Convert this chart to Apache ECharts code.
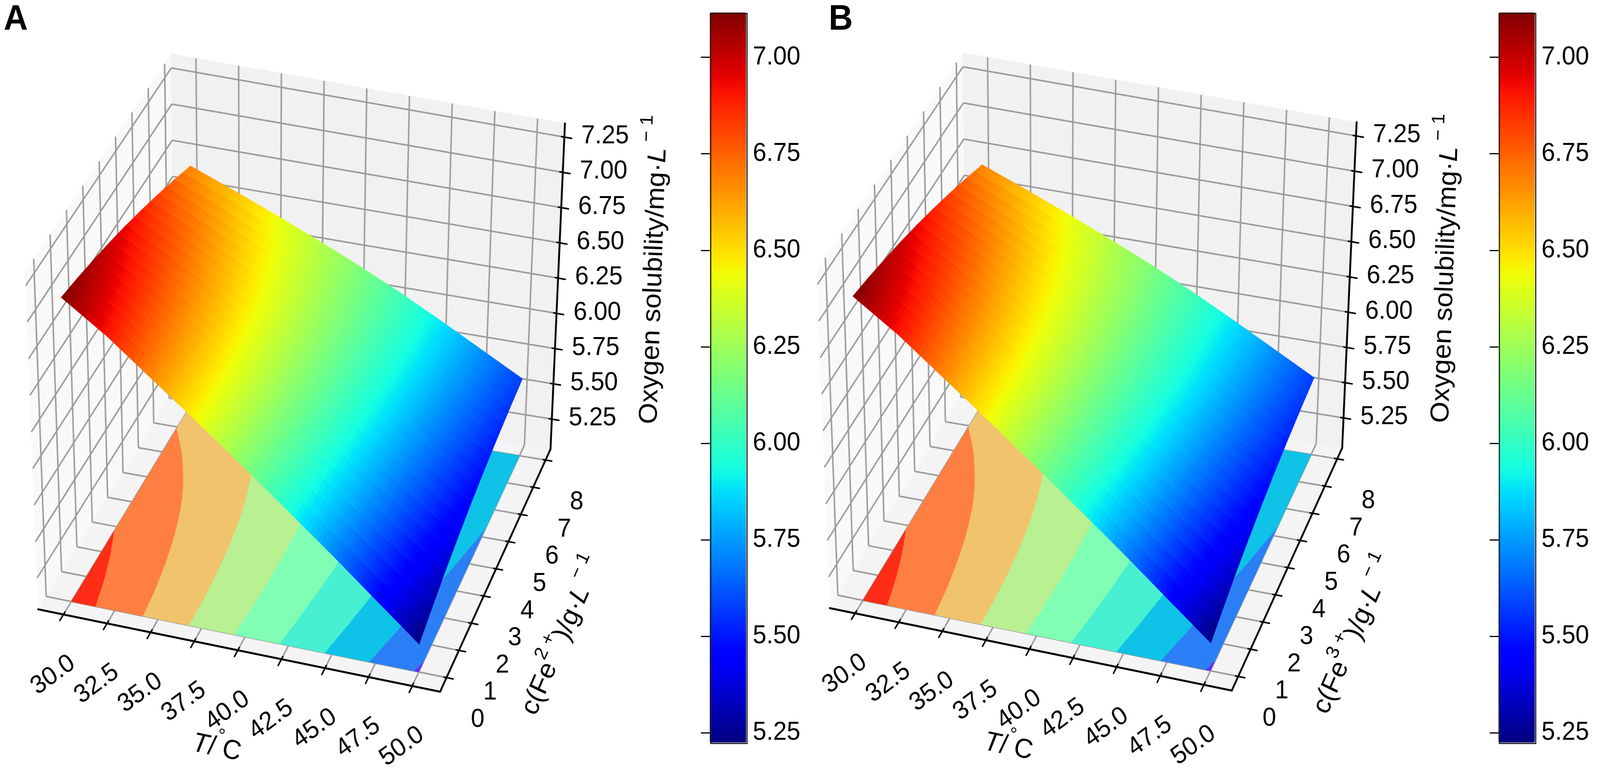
<!DOCTYPE html>
<html>
<head>
<meta charset="utf-8">
<title>Oxygen solubility surfaces</title>
<script src="https://cdn.jsdelivr.net/npm/echarts/dist/echarts.min.js"></script>
<style>
html,body{margin:0;padding:0;background:#ffffff;overflow:hidden}
#chart{width:4319px;height:1997px;transform-origin:0 0}
</style>
</head>
<body>
<div id="chart"></div>
<script>
// ---------------- data ----------------
const T_VALUES = [30, 32.5, 35, 37.5, 40, 42.5, 45, 47.5, 50];      // temperature / °C
const C_VALUES = [0, 1, 2, 3, 4, 5, 6, 7, 8];                      // iron concentration / g·L-1
// oxygen solubility / mg·L-1 ; one row per temperature, one column per concentration
const OXYGEN_FE2 = [
  [7.116, 7.080, 7.038, 6.991, 6.938, 6.879, 6.815, 6.745, 6.670],
  [6.905, 6.881, 6.851, 6.816, 6.775, 6.728, 6.676, 6.618, 6.555],
  [6.665, 6.656, 6.641, 6.621, 6.595, 6.563, 6.526, 6.483, 6.435],
  [6.430, 6.435, 6.434, 6.427, 6.415, 6.397, 6.374, 6.345, 6.310],
  [6.190, 6.208, 6.221, 6.228, 6.230, 6.226, 6.216, 6.201, 6.180],
  [5.950, 5.981, 6.006, 6.026, 6.040, 6.049, 6.051, 6.049, 6.040],
  [5.710, 5.752, 5.789, 5.820, 5.845, 5.865, 5.879, 5.887, 5.890],
  [5.465, 5.518, 5.566, 5.609, 5.645, 5.676, 5.701, 5.721, 5.735],
  [5.225, 5.289, 5.348, 5.400, 5.448, 5.489, 5.525, 5.555, 5.580]
];
const OXYGEN_FE3 = [
  [7.116, 7.080, 7.038, 6.991, 6.938, 6.879, 6.815, 6.745, 6.670],
  [6.905, 6.881, 6.851, 6.816, 6.775, 6.728, 6.676, 6.618, 6.555],
  [6.665, 6.656, 6.641, 6.621, 6.595, 6.563, 6.526, 6.483, 6.435],
  [6.430, 6.435, 6.434, 6.427, 6.415, 6.397, 6.374, 6.345, 6.310],
  [6.190, 6.208, 6.221, 6.228, 6.230, 6.226, 6.216, 6.201, 6.180],
  [5.950, 5.981, 6.006, 6.026, 6.040, 6.049, 6.051, 6.049, 6.040],
  [5.710, 5.752, 5.789, 5.820, 5.845, 5.865, 5.879, 5.887, 5.890],
  [5.465, 5.518, 5.566, 5.609, 5.645, 5.676, 5.701, 5.721, 5.735],
  [5.225, 5.289, 5.348, 5.400, 5.448, 5.489, 5.525, 5.555, 5.580]
];
const T_TICKS = [30, 32.5, 35, 37.5, 40, 42.5, 45, 47.5, 50];
const C_TICKS = [0, 1, 2, 3, 4, 5, 6, 7, 8];
const Z_TICKS = [5.25, 5.50, 5.75, 6.00, 6.25, 6.50, 6.75, 7.00, 7.25];
const CB_TICKS = [5.25, 5.50, 5.75, 6.00, 6.25, 6.50, 6.75, 7.00];
const CONTOUR_LEVELS = [5.00, 5.25, 5.50, 5.75, 6.00, 6.25, 6.50, 6.75, 7.00, 7.25];

// ---------------- view / layout (design space 4319 x 1997) ----------------
const FONT = '"Liberation Sans", Arial, Helvetica, sans-serif';
const W = 4319, H = 1997;
const BOX = { T: [28.55, 51.6], c: [-0.52, 8.4], z: [5.037, 7.347] };
// design-space position of the 8 box corners of panel A (key = T,c,z : 0 low / 1 high)
const CORNERS = {
  '000': [103, 1560], '100': [1188, 1771], '110': [1486, 1150], '010': [473, 994],
  '001': [68, 695],   '101': [1203, 891],  '111': [1525, 316],  '011': [462, 138]
};
const PANELS = [
  { letter: 'A', data: OXYGEN_FE2, ion: '2', dx: 0,    dy: 0,  cbLeft: 1916, letterX: 10 },
  { letter: 'B', data: OXYGEN_FE3, ion: '3', dx: 2137, dy: -3, cbLeft: 4045, letterX: 2237 }
];
const CB_TOP = 32, CB_HEIGHT = 1869, CB_WIDTH = 98;
const TICK_FONT = 66, TITLE_FONT = 70;

// ---------------- colour maps ----------------
function interp(pts, x) {
  if (x <= pts[0][0]) return pts[0][1];
  for (let i = 1; i < pts.length; i++) {
    if (x <= pts[i][0]) {
      const a = pts[i - 1], b = pts[i];
      return a[1] + (b[1] - a[1]) * (x - a[0]) / (b[0] - a[0]);
    }
  }
  return pts[pts.length - 1][1];
}
function toHex(r, g, b) {
  const h = v => { const s = Math.round(Math.max(0, Math.min(1, v)) * 255).toString(16); return s.length < 2 ? '0' + s : s; };
  return '#' + h(r) + h(g) + h(b);
}
function jet(x) {
  x = Math.max(0, Math.min(1, x));
  return toHex(
    interp([[0, 0], [0.35, 0], [0.66, 1], [0.89, 1], [1, 0.5]], x),
    interp([[0, 0], [0.125, 0], [0.375, 1], [0.64, 1], [0.91, 0], [1, 0]], x),
    interp([[0, 0.5], [0.11, 1], [0.34, 1], [0.65, 0], [1, 0]], x));
}
function rainbow(x) {
  x = Math.max(0, Math.min(1, x));
  return toHex(Math.abs(2 * x - 0.5), Math.sin(Math.PI * x), Math.cos(Math.PI * x / 2));
}
const JET_COLORS = [];
for (let k = 0; k <= 64; k++) JET_COLORS.push(jet(k / 64));

// ---------------- projection of (T, c, z) into the hidden design-space grid ----------------
function project(p, T, c, z) {
  const u = (T - BOX.T[0]) / (BOX.T[1] - BOX.T[0]);
  const v = (c - BOX.c[0]) / (BOX.c[1] - BOX.c[0]);
  const w = (z - BOX.z[0]) / (BOX.z[1] - BOX.z[0]);
  let x = 0, y = 0;
  for (const key in CORNERS) {
    const wt = (key[0] === '1' ? u : 1 - u) * (key[1] === '1' ? v : 1 - v) * (key[2] === '1' ? w : 1 - w);
    x += wt * CORNERS[key][0];
    y += wt * CORNERS[key][1];
  }
  return [x + p.dx, y + p.dy];
}

function dataRange(g) {
  let lo = Infinity, hi = -Infinity;
  g.forEach(r => r.forEach(v => { lo = Math.min(lo, v); hi = Math.max(hi, v); }));
  return [lo, hi];
}
function bilinear(g, i, j, a, b) {
  return (1 - a) * (1 - b) * g[i][j] + a * (1 - b) * g[i + 1][j] + a * b * g[i + 1][j + 1] + (1 - a) * b * g[i][j + 1];
}
function cellItems(g) {
  const items = [];
  for (let j = C_VALUES.length - 2; j >= 0; j--) {
    for (let i = 0; i < T_VALUES.length - 1; i++) {
      items.push([i, j, (g[i][j] + g[i + 1][j] + g[i + 1][j + 1] + g[i][j + 1]) / 4]);
    }
  }
  return items;
}
function clipPoly(poly, level, keepAbove) {
  const out = [];
  for (let k = 0; k < poly.length; k++) {
    const A = poly[k], B = poly[(k + 1) % poly.length];
    const ina = keepAbove ? A.v >= level : A.v <= level;
    const inb = keepAbove ? B.v >= level : B.v <= level;
    if (ina) out.push(A);
    if (ina !== inb) {
      const t = (level - A.v) / (B.v - A.v);
      out.push({ T: A.T + t * (B.T - A.T), c: A.c + t * (B.c - A.c), v: level });
    }
  }
  return out;
}

// ---------------- render functions ----------------
function makeFrameRender(p) {
  return function (params, api) {
    const P = (T, c, z) => api.coord(project(p, T, c, z));
    const [T0, T1] = BOX.T, [c0, c1] = BOX.c, [z0, z1] = BOX.z;
    const ch = [];
    const poly = (pts, fill) => ch.push({ type: 'polygon', shape: { points: pts }, style: { fill: fill, stroke: fill, lineWidth: 1 } });
    poly([P(T0, c0, z0), P(T0, c1, z0), P(T0, c1, z1), P(T0, c0, z1)], '#f9f9f9');
    poly([P(T0, c1, z0), P(T1, c1, z0), P(T1, c1, z1), P(T0, c1, z1)], '#f1f1f1');
    poly([P(T0, c0, z0), P(T1, c0, z0), P(T1, c1, z0), P(T0, c1, z0)], '#f4f4f4');
    const line = (a, b) => ch.push({ type: 'line', shape: { x1: a[0], y1: a[1], x2: b[0], y2: b[1] }, style: { stroke: '#9c9c9c', lineWidth: 4 } });
    T_TICKS.forEach(T => { line(P(T, c1, z0), P(T, c1, z1)); line(P(T, c0, z0), P(T, c1, z0)); });
    Z_TICKS.forEach(z => { line(P(T0, c1, z), P(T1, c1, z)); line(P(T0, c0, z), P(T0, c1, z)); });
    C_TICKS.forEach(c => { line(P(T0, c, z0), P(T0, c, z1)); line(P(T0, c, z0), P(T1, c, z0)); });
    return { type: 'group', children: ch };
  };
}

function makeFloorRender(p) {
  const g = p.data, z0 = BOX.z[0];
  const L = CONTOUR_LEVELS, lmin = L[0], lmax = L[L.length - 1];
  const bandColors = [];
  for (let k = 0; k < L.length - 1; k++) bandColors.push(rainbow(((L[k] + L[k + 1]) / 2 - lmin) / (lmax - lmin)));
  const NS = 6, NC = 3;
  return function (params, api) {
    const i = api.value(0), j = api.value(1);
    const Ta = T_VALUES[i], Tb = T_VALUES[i + 1], ca = C_VALUES[j], cb = C_VALUES[j + 1];
    const ch = [];
    const vert = (a, b) => ({ T: Ta + a * (Tb - Ta), c: ca + b * (cb - ca), v: bilinear(g, i, j, a, b) });
    for (let m = 0; m < NC; m++) {
      for (let n = 0; n < NS; n++) {
        const v00 = vert(n / NS, m / NC), v10 = vert((n + 1) / NS, m / NC), v11 = vert((n + 1) / NS, (m + 1) / NC), v01 = vert(n / NS, (m + 1) / NC);
        [[v00, v10, v11], [v00, v11, v01]].forEach(tri => {
          for (let k = 0; k < L.length - 1; k++) {
            let pg = clipPoly(tri, L[k], true);
            if (pg.length < 3) continue;
            pg = clipPoly(pg, L[k + 1], false);
            if (pg.length < 3) continue;
            ch.push({ type: 'polygon', shape: { points: pg.map(q => api.coord(project(p, q.T, q.c, z0))) },
              style: { fill: bandColors[k], stroke: bandColors[k], lineWidth: 1 } });
          }
        });
      }
    }
    return { type: 'group', children: ch };
  };
}

function makeSurfaceRender(p) {
  const g = p.data, [vmin, vmax] = dataRange(g);
  const NT = 12, NC = 2;
  return function (params, api) {
    const i = api.value(0), j = api.value(1);
    const Ta = T_VALUES[i], Tb = T_VALUES[i + 1], ca = C_VALUES[j], cb = C_VALUES[j + 1];
    const ch = [];
    for (let m = NC - 1; m >= 0; m--) {
      for (let n = 0; n < NT; n++) {
        const a0 = n / NT, a1 = (n + 1) / NT, b0 = m / NC, b1 = (m + 1) / NC;
        const q = [[a0, b0], [a1, b0], [a1, b1], [a0, b1]];
        let sum = 0;
        const pts = q.map(([a, b]) => {
          const val = bilinear(g, i, j, a, b);
          sum += val;
          return api.coord(project(p, Ta + a * (Tb - Ta), ca + b * (cb - ca), val));
        });
        const col = jet((sum / 4 - vmin) / (vmax - vmin));
        ch.push({ type: 'polygon', shape: { points: pts }, style: { fill: col, stroke: col, lineWidth: 1.2 } });
      }
    }
    return { type: 'group', children: ch };
  };
}

function richStyle(size) {
  return {
    n: { fontSize: size, fontFamily: FONT, fill: '#000', lineHeight: size * 1.3, verticalAlign: 'bottom' },
    i: { fontSize: size, fontFamily: FONT, fontStyle: 'italic', fill: '#000', lineHeight: size * 1.3, verticalAlign: 'bottom' },
    s: { fontSize: size * 0.7, fontFamily: FONT, fill: '#000', lineHeight: size * 0.75, verticalAlign: 'top' }
  };
}

function makeAxesRender(p) {
  return function (params, api) {
    const P = (T, c, z) => api.coord(project(p, T, c, z));
    const at = (T, c, z, ox, oy) => { const q = project(p, T, c, z); return api.coord([q[0] + ox, q[1] + oy]); };
    const [T0, T1] = BOX.T, [c0, c1] = BOX.c, [z0, z1] = BOX.z;
    const ch = [];
    const line = (a, b, w) => ch.push({ type: 'line', shape: { x1: a[0], y1: a[1], x2: b[0], y2: b[1] }, style: { stroke: '#000', lineWidth: w, lineCap: 'round' } });
    const text = (pos, str, rot) => ch.push({ type: 'text', x: pos[0], y: pos[1], rotation: rot || 0,
      style: { text: str, fontSize: TICK_FONT, fontFamily: FONT, fill: '#000', align: 'center', verticalAlign: 'middle' } });
    // axis lines
    line(P(T0, c0, z0), P(T1, c0, z0), 5);
    line(P(T1, c0, z0), P(T1, c1, z0), 5);
    line(P(T1, c1, z0), P(T1, c1, z1), 5);
    // T axis ticks + labels
    T_TICKS.forEach(T => {
      line(P(T, c0 + 0.10, z0), P(T, c0 - 0.24, z0), 4);
      text(at(T, c0, z0, -28, 155), T.toFixed(1), 35 * Math.PI / 180);
    });
    // c axis ticks + labels
    C_TICKS.forEach(c => {
      line(P(T1 - 0.15, c, z0), P(T1 + 0.38, c, z0), 4);
      text(at(T1, c, z0, 84, 108), String(c), 0);
    });
    // z axis ticks + labels
    Z_TICKS.forEach(z => {
      line(P(T1 - 0.17, c1, z), P(T1 + 0.43, c1, z), 4);
      text(at(T1, c1, z, 110, -2), z.toFixed(2), 0);
    });
    // axis titles
    const rt = (x, y, str, rot) => { const q = api.coord([x + p.dx, y + p.dy]); ch.push({ type: 'text', x: q[0], y: q[1], rotation: rot,
      style: { text: str, rich: richStyle(TITLE_FONT), fill: '#000', align: 'center', verticalAlign: 'middle' } }); };
    rt(587, 1905, '{i|T}{n|/}{s|°}{n|C}', -11.4 * Math.PI / 180);
    rt(1509, 1624, '{n|c(Fe}{s|' + p.ion + ' +}{n|)/g·}{i|L}{s| − 1}', 65.5 * Math.PI / 180);
    rt(1756, 690, '{n|Oxygen solubility/mg·}{i|L}{s| − 1}', 88 * Math.PI / 180);
    // panel letter
    const lp = api.coord([p.letterX, 6]);
    ch.push({ type: 'text', x: lp[0], y: lp[1], style: { text: p.letter, fontSize: 90, fontWeight: 'bold', fontFamily: FONT, fill: '#000', align: 'left', verticalAlign: 'top' } });
    return { type: 'group', children: ch };
  };
}

// ---------------- option ----------------
const grids = [{ left: 0, top: 0, width: W, height: H }];
const xAxes = [{ type: 'value', min: 0, max: W, show: false, gridIndex: 0 }];
const yAxes = [{ type: 'value', min: 0, max: H, inverse: true, show: false, gridIndex: 0 }];
const series = [];
const visualMaps = [];
const graphics = [];

PANELS.forEach((p, idx) => {
  const [vmin, vmax] = dataRange(p.data);
  const cbMin = CB_TICKS[0], cbMax = CB_TICKS[CB_TICKS.length - 1];
  const gTop = CB_TOP + (vmax - cbMax) / (vmax - vmin) * CB_HEIGHT;
  const gH = (cbMax - cbMin) / (vmax - vmin) * CB_HEIGHT;
  grids.push({ left: p.cbLeft, top: gTop, width: CB_WIDTH, height: gH });
  xAxes.push({ type: 'value', gridIndex: idx + 1, show: false, min: 0, max: 1 });
  yAxes.push({ type: 'value', gridIndex: idx + 1, position: 'right', min: cbMin, max: cbMax,
    interval: CB_TICKS[1] - CB_TICKS[0],
    axisLine: { show: false }, splitLine: { show: false },
    axisTick: { show: true, inside: true, length: 24, lineStyle: { color: '#000', width: 3 } },
    axisLabel: { show: true, margin: 18, fontSize: TICK_FONT, fontFamily: FONT, color: '#000', formatter: v => v.toFixed(2) } });

  const items = cellItems(p.data);
  const base = series.length;
  series.push({ type: 'custom', name: 'frame' + p.letter, coordinateSystem: 'cartesian2d', xAxisIndex: 0, yAxisIndex: 0,
    z: 1, silent: true, animation: false, data: [[0, 0]], renderItem: makeFrameRender(p) });
  series.push({ type: 'custom', name: 'floor' + p.letter, coordinateSystem: 'cartesian2d', xAxisIndex: 0, yAxisIndex: 0,
    z: 2, silent: true, animation: false, data: items, renderItem: makeFloorRender(p) });
  series.push({ type: 'custom', name: 'surface' + p.letter, coordinateSystem: 'cartesian2d', xAxisIndex: 0, yAxisIndex: 0,
    z: 3, silent: true, animation: false, data: items, renderItem: makeSurfaceRender(p) });
  series.push({ type: 'custom', name: 'axes' + p.letter, coordinateSystem: 'cartesian2d', xAxisIndex: 0, yAxisIndex: 0,
    z: 4, silent: true, animation: false, data: [[0, 0]], renderItem: makeAxesRender(p) });

  visualMaps.push({ type: 'continuous', seriesIndex: base + 2, dimension: 2, min: vmin, max: vmax,
    calculable: false, hoverLink: false, orient: 'vertical', left: p.cbLeft, top: CB_TOP, padding: 0,
    itemWidth: CB_WIDTH, itemHeight: CB_HEIGHT, inRange: { color: JET_COLORS }, text: null });
  graphics.push({ type: 'rect', left: p.cbLeft, top: CB_TOP, z: 100,
    shape: { width: CB_WIDTH, height: CB_HEIGHT }, style: { fill: 'none', stroke: '#222', lineWidth: 3 } });
});

// stretch the fixed 4319 x 1997 design onto whatever viewport the page actually gets
const el = document.getElementById('chart');
const VW = window.innerWidth || W, VH = window.innerHeight || H;
el.style.transform = 'scale(' + (VW / W) + ',' + (VH / H) + ')';
const chart = echarts.init(el, null, { renderer: 'canvas', width: W, height: H });
chart.setOption({
  backgroundColor: '#ffffff',
  animation: false,
  grid: grids, xAxis: xAxes, yAxis: yAxes,
  visualMap: visualMaps,
  graphic: graphics,
  series: series
});
</script>
</body>
</html>
